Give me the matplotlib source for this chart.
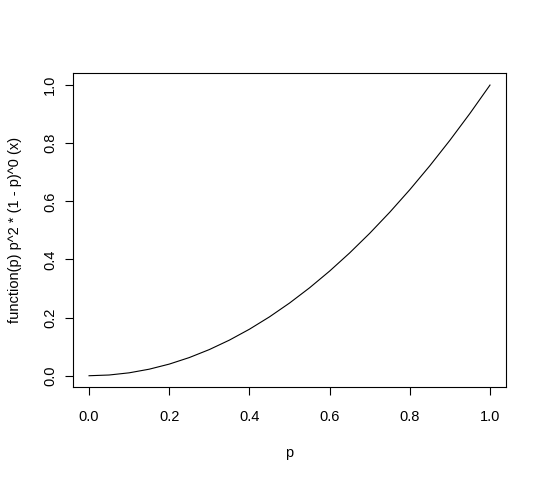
import matplotlib
matplotlib.use("Agg")
import matplotlib.pyplot as plt

plt.rcParams['font.family'] = ['Liberation Sans', 'DejaVu Sans']

p_values = [0.00, 0.05, 0.10, 0.15, 0.20, 0.25, 0.30, 0.35, 0.40, 0.45, 0.50,
            0.55, 0.60, 0.65, 0.70, 0.75, 0.80, 0.85, 0.90, 0.95, 1.00]
y_values = [0.0000, 0.0025, 0.0100, 0.0225, 0.0400, 0.0625, 0.0900, 0.1225,
            0.1600, 0.2025, 0.2500, 0.3025, 0.3600, 0.4225, 0.4900, 0.5625,
            0.6400, 0.7225, 0.8100, 0.9025, 1.0000]
x_ticks = [0.0, 0.2, 0.4, 0.6, 0.8, 1.0]
y_ticks = [0.0, 0.2, 0.4, 0.6, 0.8, 1.0]
x_label = "p"
y_label = "function(p) p^2 * (1 - p)^0 (x)"

fig = plt.figure(figsize=(5.44, 4.8), dpi=100)
ax = fig.add_axes([0.1342, 0.193, 0.796, 0.654])
ax.plot(p_values, y_values, color='black', linewidth=0.8)
ax.set_xlim(-0.04, 1.04)
ax.set_ylim(-0.04, 1.04)
ax.set_xticks(x_ticks)
ax.set_yticks(y_ticks)
ax.set_xticklabels([f"{v:.1f}" for v in x_ticks], fontsize=10.5)
ax.set_yticklabels([f"{v:.1f}" for v in y_ticks], fontsize=10.5,
                   rotation=90, va='center')
ax.tick_params(axis='x', length=5.5, width=0.8, pad=11)
ax.tick_params(axis='y', length=5.5, width=0.8, pad=6)
for s in ax.spines.values():
    s.set_linewidth(0.8)
ax.set_xlabel(x_label, fontsize=10.5, labelpad=16)
ax.set_ylabel(y_label, fontsize=10.5, labelpad=15)
fig.savefig("out.png", dpi=100)
